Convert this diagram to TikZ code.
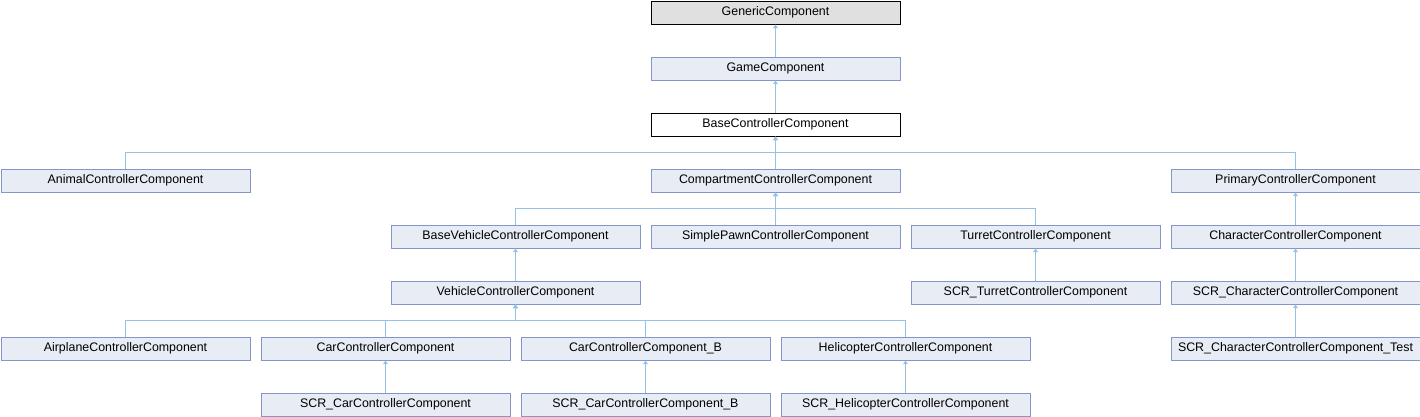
\documentclass[tikz,border=0pt]{standalone}
\usepackage{fontspec}
\setmainfont{Liberation Sans}
\usepackage{tikz}
\usetikzlibrary{arrows.meta}
\definecolor{edgeblue}{HTML}{93C2E6}
\definecolor{boxline}{HTML}{8496C8}
\definecolor{boxfill}{HTML}{E8ECF5}
\definecolor{rootfill}{HTML}{E0E0E0}

\begin{document}
\begin{tikzpicture}[x=1pt,y=-1pt,line width=1pt,font=\fontsize{12.4}{14}\selectfont,
  cls/.style={draw=boxline,fill=boxfill,anchor=north west,minimum width=249pt,minimum height=23pt,inner sep=0pt},
  ext/.style={cls,draw=black,fill=rootfill},
  cur/.style={cls,draw=black,fill=white},
  inh/.style={draw=edgeblue,-{Triangle[length=3.5pt,width=4.5pt]}}]
\useasboundingbox (0,0) rectangle (1420,416);
\node[ext] (generic) at (650.5,0.5) {GenericComponent};
\node[cls] (game) at (650.5,56.5) {GameComponent};
\node[cur] (basectrl) at (650.5,112.5) {BaseControllerComponent};
\node[cls] (animal) at (0.5,168.5) {AnimalControllerComponent};
\node[cls] (compart) at (650.5,168.5) {CompartmentControllerComponent};
\node[cls] (primary) at (1170.5,168.5) {PrimaryControllerComponent};
\node[cls] (basevehicle) at (390.5,224.5) {BaseVehicleControllerComponent};
\node[cls] (simplepawn) at (650.5,224.5) {SimplePawnControllerComponent};
\node[cls] (turret) at (910.5,224.5) {TurretControllerComponent};
\node[cls] (character) at (1170.5,224.5) {CharacterControllerComponent};
\node[cls] (vehicle) at (390.5,280.5) {VehicleControllerComponent};
\node[cls] (scrturret) at (910.5,280.5) {SCR\_TurretControllerComponent};
\node[cls] (scrchar) at (1170.5,280.5) {SCR\_CharacterControllerComponent};
\node[cls] (airplane) at (0.5,336.5) {AirplaneControllerComponent};
\node[cls] (car) at (260.5,336.5) {CarControllerComponent};
\node[cls] (carb) at (520.5,336.5) {CarControllerComponent\_B};
\node[cls] (heli) at (780.5,336.5) {HelicopterControllerComponent};
\node[cls] (scrchartest) at (1170.5,336.5) {SCR\_CharacterControllerComponent\_Test};
\node[cls] (scrcar) at (260.5,392.5) {SCR\_CarControllerComponent};
\node[cls] (scrcarb) at (520.5,392.5) {SCR\_CarControllerComponent\_B};
\node[cls] (scrheli) at (780.5,392.5) {SCR\_HelicopterControllerComponent};
% inheritance
\draw[inh] (game) -- (generic);
\draw[inh] (basectrl) -- (game);
\foreach \c in {animal,compart,primary}
  \draw[inh] (\c.north) -- ++(0,-16) -| (basectrl.south);
\foreach \c in {basevehicle,simplepawn,turret}
  \draw[inh] (\c.north) -- ++(0,-16) -| (compart.south);
\draw[inh] (character) -- (primary);
\draw[inh] (vehicle) -- (basevehicle);
\draw[inh] (scrturret) -- (turret);
\draw[inh] (scrchar) -- (character);
\foreach \c in {airplane,car,carb,heli}
  \draw[inh] (\c.north) -- ++(0,-16) -| (vehicle.south);
\draw[inh] (scrchartest) -- (scrchar);
\draw[inh] (scrcar) -- (car);
\draw[inh] (scrcarb) -- (carb);
\draw[inh] (scrheli) -- (heli);
\end{tikzpicture}
\end{document}
